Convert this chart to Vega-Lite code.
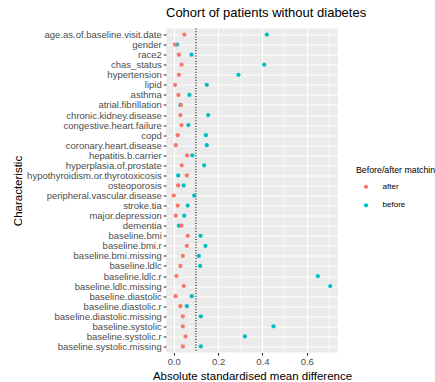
{
  "$schema": "https://vega.github.io/schema/vega-lite/v6.json",
  "width": 172,
  "height": 324,
  "autosize": "none",
  "padding": {"left": 166, "top": 28.5, "right": 97, "bottom": 29.5},
  "background": "white",
  "config": {
    "font": "Liberation Sans",
    "view": {"fill": "#EBEBEB", "stroke": null},
    "axis": {
      "domain": false,
      "grid": true,
      "gridColor": "white",
      "gridWidth": 1.07,
      "tickColor": "#333333",
      "tickSize": 2.75,
      "tickWidth": 1.07,
      "labelColor": "#4D4D4D",
      "labelFontSize": 9.5,
      "labelFont": "Liberation Sans",
      "titleFont": "Liberation Sans",
      "titleFontSize": 11.5,
      "titleFontWeight": "normal",
      "titleColor": "black"
    }
  },
  "title": {
    "text": "Cohort of patients without diabetes",
    "anchor": "start",
    "frame": "group",
    "font": "Liberation Sans",
    "fontSize": 13,
    "fontWeight": "normal",
    "color": "black",
    "offset": 8
  },
  "layer": [
    {
      "data": {"values": [{"g": 0.1}, {"g": 0.3}, {"g": 0.5}, {"g": 0.7}]},
      "mark": {"type": "rule", "color": "white", "strokeWidth": 0.53},
      "encoding": {
        "x": {"field": "g", "type": "quantitative", "scale": {"domain": [-0.035, 0.741], "nice": false, "zero": false}}
      }
    },
    {
      "data": {"values": [{"ref": 0.1}]},
      "mark": {"type": "rule", "color": "black", "strokeWidth": 1.1, "strokeDash": [1, 1.7]},
      "encoding": {
        "x": {"field": "ref", "type": "quantitative"}
      }
    },
    {
      "data": {"values": [
        {"v": "age.as.of.baseline.visit.date", "after": 0.048, "before": 0.420},
        {"v": "gender", "after": 0.005, "before": 0.015},
        {"v": "race2", "after": 0.023, "before": 0.080},
        {"v": "chas_status", "after": 0.035, "before": 0.408},
        {"v": "hypertension", "after": 0.023, "before": 0.292},
        {"v": "lipid", "after": 0.006, "before": 0.149},
        {"v": "asthma", "after": 0.021, "before": 0.071},
        {"v": "atrial.fibrillation", "after": 0.032, "before": 0.030},
        {"v": "chronic.kidney.disease", "after": 0.030, "before": 0.155},
        {"v": "congestive.heart.failure", "after": 0.035, "before": 0.066},
        {"v": "copd", "after": 0.018, "before": 0.145},
        {"v": "coronary.heart.disease", "after": 0.009, "before": 0.149},
        {"v": "hepatitis.b.carrier", "after": 0.060, "before": 0.084},
        {"v": "hyperplasia.of.prostate", "after": 0.036, "before": 0.137},
        {"v": "hypothyroidism.or.thyrotoxicosis", "after": 0.059, "before": 0.020},
        {"v": "osteoporosis", "after": 0.020, "before": 0.045},
        {"v": "peripheral.vascular.disease", "after": 0.000, "before": 0.092},
        {"v": "stroke.tia", "after": 0.018, "before": 0.063},
        {"v": "major.depression", "after": 0.009, "before": 0.047},
        {"v": "dementia", "after": 0.035, "before": 0.023},
        {"v": "baseline.bmi", "after": 0.063, "before": 0.121},
        {"v": "baseline.bmi.r", "after": 0.059, "before": 0.143},
        {"v": "baseline.bmi.missing", "after": 0.041, "before": 0.113},
        {"v": "baseline.ldlc", "after": 0.030, "before": 0.119},
        {"v": "baseline.ldlc.r", "after": 0.012, "before": 0.650},
        {"v": "baseline.ldlc.missing", "after": 0.045, "before": 0.706},
        {"v": "baseline.diastolic", "after": 0.008, "before": 0.081},
        {"v": "baseline.diastolic.r", "after": 0.030, "before": 0.059},
        {"v": "baseline.diastolic.missing", "after": 0.041, "before": 0.122},
        {"v": "baseline.systolic", "after": 0.041, "before": 0.450},
        {"v": "baseline.systolic.r", "after": 0.053, "before": 0.321},
        {"v": "baseline.systolic.missing", "after": 0.041, "before": 0.122}
      ]},
      "transform": [{"fold": ["before", "after"], "as": ["group", "value"]}],
      "mark": {"type": "point", "filled": true, "opacity": 1, "size": 18, "shape": "circle"},
      "encoding": {
        "x": {
          "field": "value",
          "type": "quantitative",
          "axis": {
            "values": [0, 0.2, 0.4, 0.6],
            "format": ".1f",
            "labelPadding": 1.5,
            "titlePadding": 4.5,
            "title": "Absolute standardised mean difference"
          }
        },
        "y": {
          "field": "v",
          "type": "nominal",
          "sort": null,
          "scale": {"type": "point", "padding": 0.6},
          "axis": {
            "title": "Characteristic",
            "labelPadding": 2,
            "titlePadding": 3
          }
        },
        "color": {
          "field": "group",
          "type": "nominal",
          "scale": {"domain": ["after", "before"], "range": ["#F8766D", "#00BFC4"]},
          "legend": {
            "title": "Before/after matching",
            "orient": "none",
            "legendX": 190,
            "legendY": 137,
            "padding": 0,
            "titleFontSize": 8.8,
            "titleFontWeight": "normal",
            "titleColor": "black",
            "titlePadding": 8.5,
            "labelFontSize": 8,
            "labelColor": "black",
            "labelOffset": 12.6,
            "symbolOffset": 6,
            "symbolSize": 18,
            "symbolType": "circle",
            "rowPadding": 10.5
          }
        }
      }
    }
  ]
}
